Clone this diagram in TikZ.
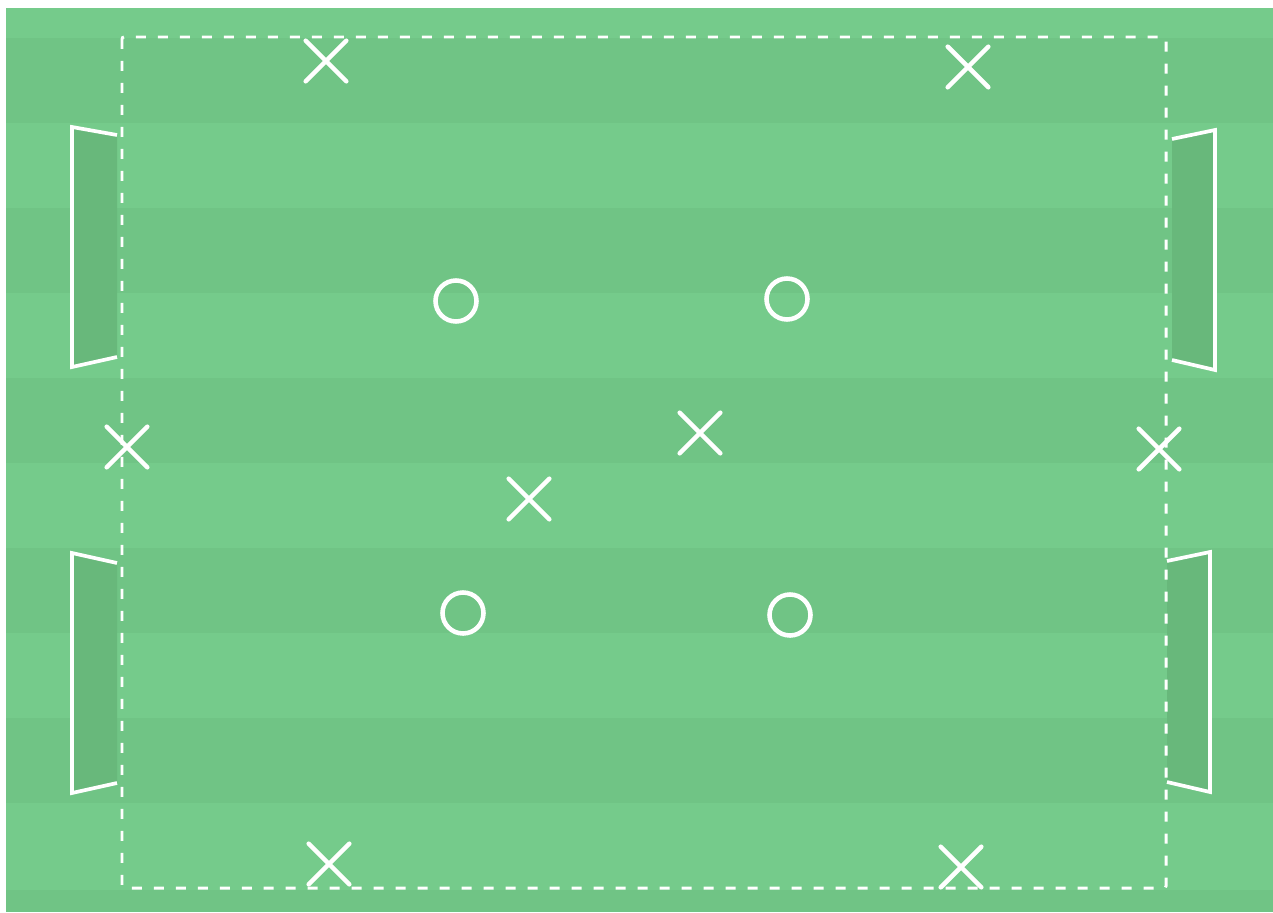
\documentclass[tikz,border=0pt]{standalone}
\usetikzlibrary{shapes.misc}
\definecolor{grasslight}{RGB}{117,203,139}
\definecolor{grassdark}{RGB}{112,196,133}
\definecolor{goalfill}{RGB}{104,184,123}
\tikzset{
  px/.style={x=0.02cm,y=-0.02cm},
  boundary/.style={draw=white,line width=1.7pt,dash pattern=on 0.2cm off 0.24cm,rounded corners=0.04cm},
  goalline/.style={draw=white,line width=2.1pt,line join=miter},
  goalarea/.style={fill=goalfill,draw=none},
  xmark/.style={cross out,draw=white,line width=2.6pt,line cap=round,minimum size=0.72cm,inner sep=0pt},
  omark/.style={circle,draw=white,line width=2.6pt,minimum size=0.82cm,inner sep=0pt},
}
\begin{document}
\begin{tikzpicture}[px]
\useasboundingbox (0,0) rectangle (1273,912);
\fill[white] (0,0) rectangle (1273,912);
\fill[grasslight] (6,8) rectangle (1273,912);
\foreach \y in {38,208,378,548,718} {
  \fill[grassdark] (6,\y) rectangle (1273,\y+85);
}
\fill[grassdark] (6,890) rectangle (1273,912);
% goals
\fill[goalarea] (72,127) -- (117,135) -- (117,357) -- (72,367) -- cycle;
\draw[goalline] (117,135) -- (72,127) -- (72,367) -- (117,357);
\fill[goalarea] (72,553) -- (117,563) -- (117,783) -- (72,793) -- cycle;
\draw[goalline] (117,563) -- (72,553) -- (72,793) -- (117,783);
\fill[goalarea] (1215,130) -- (1172,139) -- (1172,360) -- (1215,370) -- cycle;
\draw[goalline] (1172,139) -- (1215,130) -- (1215,370) -- (1172,360);
\fill[goalarea] (1210,552) -- (1167,561) -- (1167,782) -- (1210,792) -- cycle;
\draw[goalline] (1167,561) -- (1210,552) -- (1210,792) -- (1167,782);
% boundary
\draw[boundary] (122,37) rectangle (1166,888);
% players
\node[omark] (o1) at (456,301) {};
\node[omark] (o2) at (787,299) {};
\node[omark] (o3) at (463,613) {};
\node[omark] (o4) at (790,615) {};
\node[xmark] (x1) at (326,61) {};
\node[xmark] (x2) at (968,67) {};
\node[xmark] (x3) at (127,447) {};
\node[xmark] (x4) at (700,433) {};
\node[xmark] (x5) at (529,499) {};
\node[xmark] (x6) at (1159,449) {};
\node[xmark] (x7) at (329,864) {};
\node[xmark] (x8) at (961,867) {};
\end{tikzpicture}
\end{document}
